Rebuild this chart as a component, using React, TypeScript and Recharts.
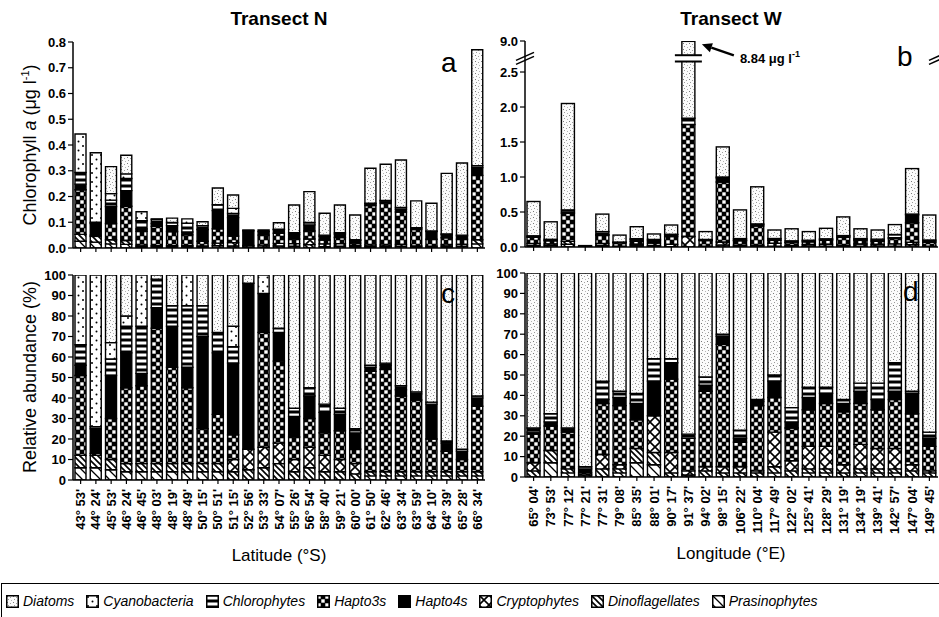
import React from 'react';
import { BarChart, Bar, XAxis, YAxis, ReferenceLine } from 'recharts';

const FONT = '"Liberation Sans", Arial, Helvetica, sans-serif';

// ---------- categories ----------
const latitudesN = ["43° 53'", "44° 24'", "45° 53'", "46° 24'", "46° 45'", "48° 03'", "48° 19'", "48° 49'", "50° 15'", "50° 51'", "51° 15'", "52° 56'", "53° 33'", "54° 07'", "55° 26'", "56° 54'", "58° 40'", "59° 21'", "60° 00'", "61° 50'", "62° 46'", "63° 34'", "63° 59'", "64° 10'", "64° 39'", "65° 28'", "66° 34'"];
const longitudesW = ["65° 04'", "73° 53'", "77° 12'", "77° 21'", "77° 31'", "79° 08'", "85° 35'", "88° 01'", "90° 17'", "91° 37'", "94° 02'", "98° 15'", "106° 22'", "110° 04'", "117° 49'", "122° 02'", "125° 41'", "128° 29'", "131° 19'", "134° 19'", "139° 41'", "142° 57'", "147° 04'", "149° 45'"];

// ---------- (a) Transect N, chlorophyll a (ug/l) ----------
const chlN_Diatoms = [0, 0, .105, .072, 0, .002, .017, 0, .015, .065, .052, .003, 0, .025, .108, .12, .085, .108, .096, .136, .14, .185, .104, .108, .235, .28, .45];
const chlN_Cyanobacteria = [.15, .27, .025, .018, .035, 0, 0, .017, 0, 0, .02, 0, .006, 0, 0, 0, 0, 0, 0, 0, 0, 0, 0, 0, 0, 0, 0];
const chlN_Chlorophytes = [.045, .005, .025, .047, .032, .016, .012, .034, .015, .023, .016, 0, 0, .002, .007, .009, .005, .005, .003, .003, .003, .007, .002, .002, .003, .003, .008];
const chlN_Hapto4s = [.022, .045, .066, .061, .009, .011, .023, .011, .046, .07, .072, .057, .014, .014, .017, .024, .014, .013, .01, .006, .007, .01, .005, .03, .012, .013, .03];
const chlN_Hapto3s = [.173, .005, .063, .133, .054, .075, .055, .042, .018, .056, .025, 0, .039, .039, .018, .031, .015, .024, .009, .153, .163, .126, .064, .027, .028, .02, .25];
const chlN_Cryptophytes = [0, 0, 0, 0, 0, 0, 0, 0, 0, 0, .013, .007, .007, .01, .01, .022, .011, .01, .006, 0, 0, 0, 0, 0, 0, 0, 0];
const chlN_Dinoflagellates = [.027, .022, .016, .015, .006, .005, .005, .005, .004, .01, .008, .003, .004, .008, .007, .013, .005, .007, .004, .006, .006, .007, .004, .004, .006, .007, .016];
const chlN_Prasinophytes = [.026, .023, .016, .014, .005, .004, .004, .004, .004, .009, 0, 0, 0, 0, 0, 0, 0, 0, 0, .006, .006, .007, .004, .003, .006, .007, .016];

// ---------- (b) Transect W, chlorophyll a (ug/l) ----------
const chlW_Diatoms = [.49, .25, 1.52, .019, .25, .099, .171, .078, .132, 7.0, .112, .43, .41, .53, .122, .172, .123, .15, .267, .14, .131, .141, .65, .357];
const chlW_Cyanobacteria = [0, 0, 0, 0, 0, 0, 0, 0, 0, 0, 0, 0, 0, 0, 0, 0, 0, 0, 0, 0, 0, 0, 0, 0];
const chlW_Chlorophytes = [.013, .015, .03, 0, .042, .005, .015, .02, .006, .09, .009, .014, .02, .01, .007, .018, .011, .008, .009, .01, .019, .045, .011, .014];
const chlW_Hapto4s = [.007, .007, .02, .001, .01, .007, .023, .032, .025, 0, .007, .057, .01, .02, .019, .008, .013, .013, .017, .016, .012, .013, .112, .018];
const chlW_Hapto3s = [.09, .043, .40, 0, .117, .049, .041, 0, .113, 1.6, .081, .858, .064, .275, .041, .042, .04, .056, .112, .052, .046, .077, .28, .055];
const chlW_Cryptophytes = [.03, 0, 0, 0, .033, .004, 0, .034, .032, .15, .005, .043, .016, .01, .041, .013, .025, .03, .017, .032, .025, .032, .034, .004];
const chlW_Dinoflagellates = [.02, .022, .04, 0, .018, .003, .02, .011, .006, 0, .006, .028, .01, .015, .008, .007, .004, .005, .008, .005, .005, .006, .033, .009];
const chlW_Prasinophytes = [0, .023, .04, 0, 0, .003, .02, .011, 0, 0, 0, 0, 0, 0, .005, 0, .004, .005, 0, .005, .005, .006, 0, 0];

// ---------- (c) Transect N, relative abundance (%) ----------
const relN_Diatoms = [0, 0, 33, 20, 0, 2, 15, 0, 15, 28, 25, 4, 0, 26, 65, 55, 63, 65, 75, 44, 43, 54, 57, 62, 81, 85, 59];
const relN_Cyanobacteria = [34, 74, 8, 5, 25, 0, 0, 15, 0, 0, 10, 0, 9, 0, 0, 0, 0, 0, 0, 0, 0, 0, 0, 0, 0, 0, 0];
const relN_Chlorophytes = [10, 1, 8, 13, 23, 14, 10, 30, 15, 10, 8, 0, 0, 2, 4, 4, 4, 3, 2, 1, 1, 2, 1, 1, 1, 1, 1];
const relN_Hapto4s = [5, 12, 21, 17, 6, 10, 20, 10, 45, 30, 35, 81, 19, 14, 10, 11, 10, 8, 8, 2, 2, 3, 3, 17, 4, 4, 4];
const relN_Hapto3s = [39, 1, 20, 37, 38, 66, 47, 37, 17, 24, 12, 0, 56, 40, 11, 14, 11, 14, 7, 49, 50, 37, 35, 16, 10, 6, 32];
const relN_Cryptophytes = [0, 0, 0, 0, 0, 0, 0, 0, 0, 0, 6, 10, 10, 10, 6, 10, 8, 6, 5, 0, 0, 0, 0, 0, 0, 0, 0];
const relN_Dinoflagellates = [6, 6, 5, 4, 4, 4, 4, 4, 4, 4, 4, 5, 6, 8, 4, 6, 4, 4, 3, 2, 2, 2, 2, 2, 2, 2, 2];
const relN_Prasinophytes = [6, 6, 5, 4, 4, 4, 4, 4, 4, 4, 0, 0, 0, 0, 0, 0, 0, 0, 0, 2, 2, 2, 2, 2, 2, 2, 2];

// ---------- (d) Transect W, relative abundance (%) ----------
const relW_Diatoms = [76, 69, 76, 95, 53, 58, 59, 42, 42, 79, 51, 30, 77, 62, 50, 66, 56, 56, 62, 54, 54, 44, 58, 78];
const relW_Cyanobacteria = [0, 0, 0, 0, 0, 0, 0, 0, 0, 0, 0, 0, 0, 0, 0, 0, 0, 0, 0, 0, 0, 0, 0, 0];
const relW_Chlorophytes = [2, 4, 1, 1, 9, 3, 5, 11, 2, 2, 4, 1, 4, 1, 3, 7, 5, 3, 2, 4, 8, 14, 1, 3];
const relW_Hapto4s = [1, 2, 1, 2, 2, 4, 8, 17, 8, 0, 3, 4, 2, 2, 8, 3, 6, 5, 4, 6, 5, 4, 10, 4];
const relW_Hapto3s = [14, 12, 18, 1, 25, 29, 14, 0, 36, 16, 37, 60, 12, 32, 17, 16, 18, 21, 26, 20, 19, 24, 25, 12];
const relW_Cryptophytes = [4, 0, 0, 0, 7, 2, 0, 18, 10, 2, 2, 3, 3, 1, 17, 5, 11, 11, 4, 12, 10, 10, 3, 1];
const relW_Dinoflagellates = [3, 6, 2, 1, 4, 2, 7, 6, 2, 1, 3, 2, 2, 2, 3, 3, 2, 2, 2, 2, 2, 2, 3, 2];
const relW_Prasinophytes = [0, 7, 2, 0, 0, 2, 7, 6, 0, 0, 0, 0, 0, 0, 2, 0, 2, 2, 0, 2, 2, 2, 0, 0];

// ---------- axis ticks ----------
const chlNTicks = [0, 0.1, 0.2, 0.3, 0.4, 0.5, 0.6, 0.7, 0.8];
const chlWTicksLow = [0, 0.5, 1.0, 1.5, 2.0, 2.5];
const relTicks = [0, 10, 20, 30, 40, 50, 60, 70, 80, 90, 100];

// broken axis of panel b
const BREAK_LO = 2.65;
const BREAK_HI = 2.74;
const AXIS_TOP_REAL = 9.0;
const AXIS_TOP_T = 2.943;
const brk = (v: number) => (v <= BREAK_LO ? v : BREAK_HI + (v - BREAK_LO) * (AXIS_TOP_T - BREAK_HI) / (AXIS_TOP_REAL - BREAK_LO));

// stack order bottom -> top
const STACK = ['pras', 'dino', 'crypto', 'h3', 'h4', 'chloro', 'cyano', 'diat'];
// legend order
const LEGEND_ORDER = ['diat', 'cyano', 'chloro', 'h3', 'h4', 'crypto', 'dino', 'pras'];
const NAMES: Record<string, string> = {
  diat: 'Diatoms', cyano: 'Cyanobacteria', chloro: 'Chlorophytes', h3: 'Hapto3s', h4: 'Hapto4s',
  crypto: 'Cryptophytes', dino: 'Dinoflagellates', pras: 'Prasinophytes',
};
const FILLS: Record<string, string> = {
  diat: 'url(#pDiat)', cyano: 'url(#pCyano)', chloro: 'url(#pChloro)', h3: 'url(#pH3)', h4: '#000',
  crypto: 'url(#pCrypto)', dino: 'url(#pDino)', pras: 'url(#pPras)',
};

function buildRows(cats: string[], s: Record<string, number[]>, T: (v: number) => number = (v) => v) {
  return cats.map((c, i) => {
    const row: any = { cat: c };
    let cum = 0;
    for (const k of STACK) {
      const v = s[k][i];
      if (k === 'diat') row.belowDiat = T(cum);
      row[k] = T(cum + v) - T(cum);
      cum += v;
    }
    row.total = cum;
    row.topT = T(cum);
    row.broken = cum > BREAK_LO;
    return row;
  });
}

const dataA = buildRows(latitudesN, { diat: chlN_Diatoms, cyano: chlN_Cyanobacteria, chloro: chlN_Chlorophytes, h4: chlN_Hapto4s, h3: chlN_Hapto3s, crypto: chlN_Cryptophytes, dino: chlN_Dinoflagellates, pras: chlN_Prasinophytes });
const dataB = buildRows(longitudesW, { diat: chlW_Diatoms, cyano: chlW_Cyanobacteria, chloro: chlW_Chlorophytes, h4: chlW_Hapto4s, h3: chlW_Hapto3s, crypto: chlW_Cryptophytes, dino: chlW_Dinoflagellates, pras: chlW_Prasinophytes }, brk);
const dataC = buildRows(latitudesN, { diat: relN_Diatoms, cyano: relN_Cyanobacteria, chloro: relN_Chlorophytes, h4: relN_Hapto4s, h3: relN_Hapto3s, crypto: relN_Cryptophytes, dino: relN_Dinoflagellates, pras: relN_Prasinophytes });
const dataD = buildRows(longitudesW, { diat: relW_Diatoms, cyano: relW_Cyanobacteria, chloro: relW_Chlorophytes, h4: relW_Hapto4s, h3: relW_Hapto3s, crypto: relW_Cryptophytes, dino: relW_Dinoflagellates, pras: relW_Prasinophytes });

const chlWTicks = [...chlWTicksLow, AXIS_TOP_T];

// ---------- custom pieces ----------
const RotTick = (props: any) => {
  const { x, y, payload } = props;
  const yy = y + 3;
  return (
    <text x={x} y={yy} transform={`rotate(-90 ${x} ${yy})`} textAnchor="end" dominantBaseline="central"
      fontSize={13} fontWeight={700} fontFamily={FONT} fill="#000">{payload.value}</text>
  );
};
const EmptyTick = () => <g />;

const BreakMarks = (props: any) => {
  const vb = props.viewBox;
  if (!vb) return null;
  const { x, y, width } = vb;
  return (
    <g>
      {[x, x + width].map((mx: number, i: number) => (
        <g key={i}>
          <polygon points={`${mx - 9},${y + 2} ${mx + 9},${y - 6} ${mx + 9},${y - 2} ${mx - 9},${y + 6}`} fill="#fff" />
          <line x1={mx - 9} y1={y + 2} x2={mx + 9} y2={y - 6} stroke="#000" strokeWidth={1.6} />
          <line x1={mx - 9} y1={y + 6} x2={mx + 9} y2={y - 2} stroke="#000" strokeWidth={1.6} />
        </g>
      ))}
    </g>
  );
};

const DiatBreakShape = (props: any) => {
  const { x, y, width, height, fill, payload } = props;
  if (!(height > 0) || !(width > 0)) return null;
  const rect = <rect x={x} y={y} width={width} height={height} fill={fill} stroke="#000" strokeWidth={1.4} />;
  if (!payload || !payload.broken) return rect;
  const ppu = height / (payload.topT - payload.belowDiat);
  const gTop = y + (payload.topT - BREAK_HI) * ppu;
  const gBot = y + (payload.topT - BREAK_LO) * ppu;
  const tx = x + width + 7;
  const ty = y + 3;
  const tailX = tx + 32, tailY = ty + 11;
  const bx = tx + 9.5, by = ty + 3.3;
  return (
    <g>
      {rect}
      <rect x={x - 7} y={gTop} width={width + 14} height={gBot - gTop} fill="#fff" />
      <line x1={x - 7} x2={x + width + 7} y1={gTop} y2={gTop} stroke="#000" strokeWidth={2} />
      <line x1={x - 7} x2={x + width + 7} y1={gBot} y2={gBot} stroke="#000" strokeWidth={2} />
      <line x1={tailX} y1={tailY} x2={bx} y2={by} stroke="#000" strokeWidth={2.5} />
      <polygon points={`${tx},${ty} ${bx + 1.5},${by - 4.5} ${bx - 1.5},${by + 4.5}`} fill="#000" />
      <text x={tailX + 6} y={tailY + 8} fontSize={13} fontWeight={700} fontFamily={FONT} fill="#000">
        {payload.total.toFixed(2)} μg l<tspan dy={-6} fontSize={9}>-1</tspan>
      </text>
    </g>
  );
};

const axisLine = { stroke: '#000', strokeWidth: 1.5 };
const tickLine = { stroke: '#000', strokeWidth: 1.2 };
const tickFont = { fill: '#000', fontSize: 13, fontWeight: 700, fontFamily: FONT };

function Panel(p: any) {
  return (
    <div style={{ position: 'absolute', left: p.left, top: p.top }}>
      <BarChart width={p.width} height={p.height} data={p.data} margin={p.margin} barCategoryGap={2}>
        <XAxis dataKey="cat" interval={0} tickSize={4} tickLine={tickLine} axisLine={axisLine}
          height={p.xHeight} tick={p.xLabels ? RotTick : EmptyTick} />
        <XAxis xAxisId="top" orientation="top" dataKey="cat" height={0} tick={false} tickLine={false} axisLine={axisLine} />
        <YAxis type="number" domain={p.domain} ticks={p.ticks} tickFormatter={p.fmt} allowDataOverflow interval={0}
          width={p.yWidth} tickSize={5} tickLine={tickLine} axisLine={axisLine} tick={tickFont} />
        <YAxis yAxisId="right" orientation="right" type="number" domain={p.domain} allowDataOverflow width={0}
          tick={false} tickLine={false} axisLine={axisLine} />
        {STACK.map((k) => (
          <Bar key={k} dataKey={k} name={NAMES[k]} stackId="s" fill={FILLS[k]} stroke="#000" strokeWidth={1.4}
            isAnimationActive={false} {...(k === 'diat' && p.diatShape ? { shape: p.diatShape } : {})} />
        ))}
        {p.breakAt !== undefined && (
          <ReferenceLine y={p.breakAt} stroke="none" label={BreakMarks} />
        )}
      </BarChart>
    </div>
  );
}

const Patterns = () => (
  <svg width={0} height={0} style={{ position: 'absolute', left: 0, top: 0 }}>
    <defs>
      <pattern id="pDiat" width={6} height={6} patternUnits="userSpaceOnUse">
        <rect width={6} height={6} fill="#fbfbfb" />
        <rect x={1} y={1} width={1} height={1} fill="#7a7a7a" />
        <rect x={4} y={2} width={1} height={1} fill="#a0a0a0" />
        <rect x={2} y={4} width={1} height={1} fill="#999" />
        <rect x={5} y={5} width={1} height={1} fill="#b5b5b5" />
      </pattern>
      <pattern id="pCyano" width={9} height={9} patternUnits="userSpaceOnUse">
        <rect width={9} height={9} fill="#fff" />
        <circle cx={2} cy={2} r={1} fill="#000" />
        <circle cx={6.5} cy={6.5} r={1} fill="#000" />
      </pattern>
      <pattern id="pChloro" width={6} height={6} patternUnits="userSpaceOnUse">
        <rect width={6} height={6} fill="#000" />
        <rect x={0} y={1.5} width={6} height={3} fill="#fff" />
      </pattern>
      <pattern id="pH3" width={8} height={8} patternUnits="userSpaceOnUse">
        <rect width={8} height={8} fill="#000" />
        <rect x={0.3} y={0.3} width={3.4} height={3.4} fill="#fff" />
        <rect x={4.3} y={4.3} width={3.4} height={3.4} fill="#fff" />
      </pattern>
      <pattern id="pCrypto" width={10} height={10} patternUnits="userSpaceOnUse">
        <rect width={10} height={10} fill="#fff" />
        <path d="M0,0 L10,10 M10,0 L0,10" stroke="#000" strokeWidth={1.6} />
      </pattern>
      <pattern id="pDino" width={6} height={6} patternUnits="userSpaceOnUse">
        <rect width={6} height={6} fill="#fff" />
        <path d="M0,0 L6,6 M-1,5 L1,7 M5,-1 L7,1" stroke="#000" strokeWidth={1.6} />
      </pattern>
      <pattern id="pPras" width={9} height={9} patternUnits="userSpaceOnUse">
        <rect width={9} height={9} fill="#fff" />
        <path d="M0,0 L9,9 M-1,8 L1,10 M8,-1 L10,1" stroke="#000" strokeWidth={1.3} />
      </pattern>
    </defs>
  </svg>
);

const abs = (left: number, top: number, extra: any = {}) => ({ position: 'absolute' as const, left, top, ...extra });

export default function App() {
  return (
    <div style={{ position: 'absolute', left: 0, top: 0, width: 939, height: 617, background: '#fff', fontFamily: FONT, color: '#000', overflow: 'hidden' }}>
      <Patterns />
      {/* titles */}
      <div style={abs(279, 19, { transform: 'translate(-50%,-50%)', fontSize: 19, fontWeight: 700, whiteSpace: 'nowrap' })}>Transect N</div>
      <div style={abs(731, 19, { transform: 'translate(-50%,-50%)', fontSize: 19, fontWeight: 700, whiteSpace: 'nowrap' })}>Transect W</div>

      <Panel left={0} top={0} width={500} height={260} data={dataA} margin={{ top: 42, right: 15, bottom: 6, left: 0 }}
        yWidth={73} xHeight={6} xLabels={false} domain={[0, 0.8]} ticks={chlNTicks} fmt={(v: number) => v.toFixed(1)} />
      <Panel left={490} top={0} width={449} height={260} data={dataB} margin={{ top: 41, right: 1, bottom: 7, left: 0 }}
        yWidth={35} xHeight={6} xLabels={false} domain={[0, AXIS_TOP_T]} ticks={chlWTicks}
        fmt={(v: number) => (Math.abs(v - AXIS_TOP_T) < 1e-6 ? AXIS_TOP_REAL.toFixed(1) : v.toFixed(1))}
        diatShape={DiatBreakShape} breakAt={(BREAK_LO + BREAK_HI) / 2} />
      <Panel left={0} top={262} width={500} height={300} data={dataC} margin={{ top: 13, right: 15, bottom: 12, left: 0 }}
        yWidth={73} xHeight={70} xLabels domain={[0, 100]} ticks={relTicks} fmt={(v: number) => String(v)} />
      <Panel left={490} top={262} width={449} height={300} data={dataD} margin={{ top: 11, right: 1, bottom: 15, left: 0 }}
        yWidth={35} xHeight={70} xLabels domain={[0, 100]} ticks={relTicks} fmt={(v: number) => String(v)} />

      {/* panel letters */}
      <div style={abs(441, 49, { fontSize: 28, lineHeight: '28px' })}>a</div>
      <div style={abs(897, 43, { fontSize: 28, lineHeight: '28px' })}>b</div>
      <div style={abs(441, 280, { fontSize: 28, lineHeight: '28px' })}>c</div>
      <div style={abs(903, 278, { fontSize: 28, lineHeight: '28px' })}>d</div>

      {/* axis titles */}
      <div style={abs(30, 145, { transform: 'translate(-50%,-50%) rotate(-90deg)', fontSize: 18, whiteSpace: 'nowrap' })}>
        Chlorophyll <i>a</i> (μg l<sup style={{ fontSize: 11 }}>-1</sup>)
      </div>
      <div style={abs(30, 377, { transform: 'translate(-50%,-50%) rotate(-90deg)', fontSize: 18, whiteSpace: 'nowrap' })}>
        Relative abundance (%)
      </div>
      <div style={abs(279, 556, { transform: 'translate(-50%,-50%)', fontSize: 17, whiteSpace: 'nowrap' })}>Latitude (°S)</div>
      <div style={abs(731, 554, { transform: 'translate(-50%,-50%)', fontSize: 17, whiteSpace: 'nowrap' })}>Longitude (°E)</div>

      {/* legend */}
      <div style={abs(1, 583, { width: 945, height: 36, border: '1.5px solid #000', boxSizing: 'border-box', display: 'flex', alignItems: 'center', paddingLeft: 4, gap: 12 })}>
        {LEGEND_ORDER.map((k) => (
          <div key={k} style={{ display: 'flex', alignItems: 'center', gap: 4 }}>
            <svg width={13} height={13}>
              <rect x={0.75} y={0.75} width={11.5} height={11.5} fill={FILLS[k]} stroke="#000" strokeWidth={1.5} />
            </svg>
            <span style={{ fontStyle: 'italic', fontSize: 14 }}>{NAMES[k]}</span>
          </div>
        ))}
      </div>
    </div>
  );
}
